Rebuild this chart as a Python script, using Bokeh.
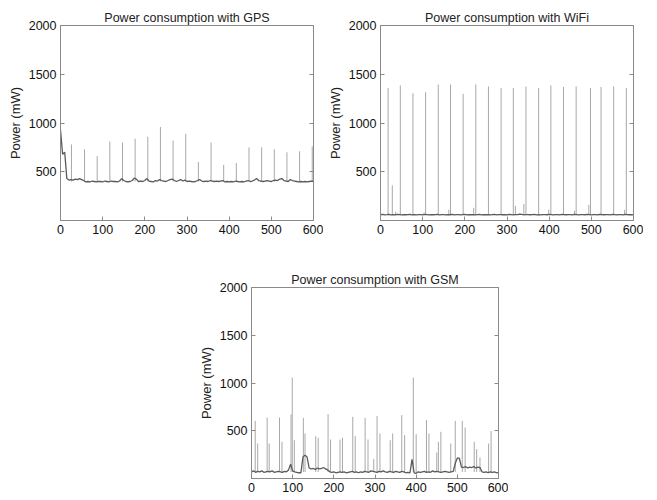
import numpy as np
from bokeh.plotting import figure
from bokeh.models import FixedTicker, LinearAxis, Range1d, Spacer
from bokeh.layouts import column, row
from bokeh.embed import file_html
from bokeh.resources import INLINE

# ---------------- data ----------------
step_s = 5
x_ticks = [0, 100, 200, 300, 400, 500, 600]
y_ticks = [500, 1000, 1500, 2000]

gps_base = [930, 680, 700, 430, 415, 420, 415, 425, 420, 430, 420, 410, 395, 400, 395, 405, 400, 395, 400, 400,
            395, 405, 400, 395, 405, 400, 400, 395, 405, 430, 410, 400, 395, 400, 410, 435, 425, 400, 405, 400,
            410, 430, 405, 400, 395, 410, 405, 420, 410, 405, 400, 410, 420, 425, 410, 400, 410, 420, 405, 415,
            400, 405, 400, 395, 400, 410, 420, 405, 400, 405, 400, 410, 405, 400, 405, 400, 405, 410, 395, 400,
            395, 400, 395, 405, 400, 395, 400, 395, 405, 410, 400, 405, 415, 430, 410, 405, 400, 405, 410, 405,
            400, 410, 415, 410, 425, 430, 410, 405, 400, 420, 410, 405, 400, 395, 400, 395, 400, 395, 400, 405,
            400]
gps_spike_t = [26, 57, 87, 117, 147, 177, 207, 237, 267, 297, 327, 357, 387, 417, 447, 477, 507, 537, 567, 597]
gps_spike_p = [780, 730, 660, 810, 800, 840, 860, 960, 820, 890, 600, 800, 570, 590, 750, 750, 730, 700, 710, 760]

wifi_base = [60, 62, 58, 60, 63, 58, 60, 57, 62, 60, 58, 61, 59, 60, 62, 57, 60, 58, 61, 60,
             58, 62, 60, 57, 61, 59, 60, 62, 58, 60, 61, 57, 60, 59, 62, 58, 60, 61, 57, 60,
             62, 58, 60, 59, 61, 57, 60, 62, 58, 60, 59, 61, 57, 60, 62, 58, 60, 61, 59, 60,
             58, 62, 60, 57, 61, 60, 65, 62, 58, 60, 61, 59, 60, 62, 57, 60, 58, 61, 60, 59,
             62, 60, 58, 61, 60, 57, 62, 60, 59, 61, 60, 58, 62, 60, 57, 61, 60, 59, 62, 60,
             58, 61, 60, 57, 62, 60, 59, 61, 60, 58, 62, 60, 57, 61, 60, 58, 62, 60, 59, 60,
             58]
wifi_spike_t = [18, 28, 36, 47, 77, 103, 107, 137, 162, 166, 196, 221, 226, 256, 286, 315, 320, 340, 345,
                375, 399, 404, 434, 460, 464, 494, 498, 523, 553, 579, 583]
wifi_spike_p = [1360, 360, 90, 1385, 1305, 80, 1315, 1395, 110, 1395, 1300, 130, 1395, 1375, 1360, 1360, 150,
                170, 1375, 1360, 110, 1385, 1370, 100, 1375, 160, 1360, 1370, 1375, 110, 1360]

gsm_base = [70, 80, 65, 75, 70, 80, 65, 70, 75, 70, 80, 65, 70, 75, 70, 65, 75, 70, 90, 150,
            80, 70, 65, 60, 60, 225, 245, 225, 110, 100, 105, 95, 110, 100, 105, 115, 100, 90, 70, 65,
            70, 60, 65, 70, 65, 70, 60, 65, 70, 75, 65, 70, 60, 70, 65, 75, 70, 65, 80, 75,
            70, 65, 75, 70, 80, 70, 65, 75, 70, 65, 75, 70, 65, 75, 70, 60, 65, 60, 200, 60,
            55, 70, 65, 70, 75, 65, 70, 65, 80, 70, 75, 70, 65, 70, 75, 70, 65, 70, 75, 160,
            215, 210, 120, 115, 125, 110, 120, 115, 125, 110, 120, 115, 70, 65, 70, 60, 70, 65, 70, 60,
            65]
gsm_spike_t = [9, 15, 38, 43, 68, 74, 96, 99, 104, 126, 130, 156, 162, 186, 192, 215, 221, 246, 252, 276,
               283, 297, 305, 312, 337, 343, 365, 372, 393, 400, 425, 431, 450, 454, 460, 484, 495, 512,
               519, 541, 547, 555, 576, 582]
gsm_spike_p = [604, 366, 639, 366, 639, 384, 670, 1057, 401, 635, 471, 443, 426, 674, 408, 408, 426, 646,
               443, 635, 408, 205, 653, 471, 401, 471, 663, 454, 1057, 464, 611, 471, 272, 384, 489, 366,
               604, 604, 534, 384, 307, 220, 366, 496]

FONT = "Liberation Sans"
FRAME = "#8a8a8a"
BASE_COL = "#5a5a5a"
SPIKE_COL = "#a8a8a8"


def make_fig(title, width, height, bl, br, bt, bb):
    p = figure(width=width, height=height, x_range=Range1d(0, 600), y_range=Range1d(0, 2000),
               output_backend="svg", toolbar_location=None,
               min_border_left=bl, min_border_right=br, min_border_top=bt, min_border_bottom=bb)
    p.title.text = title
    p.title.text_font = FONT
    p.title.text_font_size = "12.5px"
    p.title.text_font_style = "normal"
    p.title.text_color = "#222222"
    p.title.align = "center"
    p.title.standoff = 2
    p.grid.visible = False
    p.outline_line_color = FRAME
    p.background_fill_color = "white"
    p.border_fill_color = "white"
    p.xaxis.ticker = FixedTicker(ticks=x_ticks)
    p.yaxis.ticker = FixedTicker(ticks=y_ticks)
    # right-hand box ticks: drawn as minor ticks only, so no labels are produced
    right = LinearAxis(ticker=FixedTicker(ticks=[], minor_ticks=y_ticks))
    right.minor_tick_line_color = FRAME
    right.minor_tick_in = 4
    right.minor_tick_out = 0
    right.major_tick_line_color = None
    right.axis_line_color = FRAME
    p.add_layout(right, "right")
    for ax in (p.xaxis[0], p.yaxis[0]):
        ax.axis_line_color = FRAME
        ax.major_tick_line_color = FRAME
        ax.major_tick_in = 4
        ax.major_tick_out = 0
        ax.minor_tick_line_color = None
        ax.major_label_text_font = FONT
        ax.major_label_text_font_size = "12.5px"
        ax.major_label_text_color = "#111111"
        ax.major_label_standoff = 4
    p.yaxis[0].axis_label = "Power (mW)"
    p.yaxis[0].axis_label_text_font = FONT
    p.yaxis[0].axis_label_text_font_size = "13px"
    p.yaxis[0].axis_label_text_font_style = "normal"
    p.yaxis[0].axis_label_text_color = "#222222"
    p.yaxis[0].axis_label_standoff = 3
    return p


def draw(p, base, spike_t, spike_p, floor):
    t = np.arange(len(base)) * step_s
    p.segment(x0=spike_t, y0=[floor] * len(spike_t), x1=spike_t, y1=spike_p,
              line_color=SPIKE_COL, line_width=1)
    p.line(t, base, line_color=BASE_COL, line_width=1.3)


p1 = make_fig("Power consumption with GPS", 323, 242, 60, 10, 25, 22)
draw(p1, gps_base, gps_spike_t, gps_spike_p, 400)

p2 = make_fig("Power consumption with WiFi", 320, 242, 57, 10, 25, 22)
draw(p2, wifi_base, wifi_spike_t, wifi_spike_p, 58)

p3 = make_fig("Power consumption with GSM", 313, 258, 52, 10, 45, 22)
draw(p3, gsm_base, gsm_spike_t, gsm_spike_p, 68)

layout = column(row(p1, p2), row(Spacer(width=195, height=258), p3))

open("out.html", "w").write(file_html(layout, INLINE))
